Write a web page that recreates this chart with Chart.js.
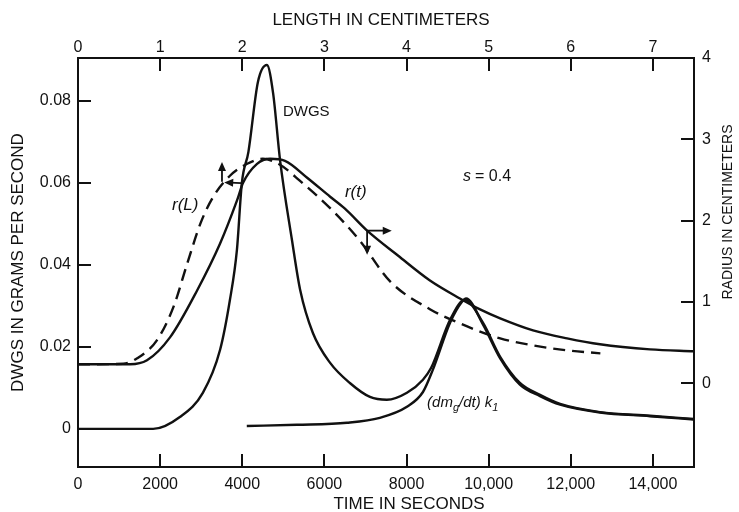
<!DOCTYPE html>
<html>
<head>
<meta charset="utf-8">
<script src="https://cdn.jsdelivr.net/npm/chart.js@4"></script>
<style>
  html, body { margin: 0; padding: 0; background: #fff; }
  canvas { display: block; }
</style>
</head>
<body>
<canvas id="chart" width="739" height="512"></canvas>
<script>
// DWGS, grams per second, against time in seconds (left axis)
const dwgsTime = [0, 1830, 2480, 3040, 3460, 3700, 3870, 3990, 4150, 4380, 4600, 4750, 4920, 5210, 5410, 5720, 6140, 6620, 7110, 7520, 8010, 8400, 8600, 9060, 9420, 9860, 10280, 10760, 11250, 11740, 12710, 13930, 15000];
const dwgsRate = [0, 0, 0.0029, 0.0088, 0.0193, 0.0315, 0.0437, 0.0600, 0.0676, 0.0846, 0.0888, 0.0820, 0.0656, 0.0461, 0.0339, 0.0234, 0.0161, 0.0112, 0.0078, 0.0071, 0.0088, 0.0120, 0.0149, 0.0266, 0.0315, 0.0259, 0.0176, 0.0112, 0.0083, 0.0061, 0.0041, 0.0032, 0.0024];

// (dmg/dt) k1, same units as DWGS
const dmgTime = [4110, 5330, 6550, 7350, 8010, 8400, 8640, 9060, 9350, 9450, 9860, 10280, 10760, 11250, 11740, 12710, 13930, 15000];
const dmgRate = [0.0007, 0.0010, 0.0015, 0.0027, 0.0054, 0.0090, 0.0144, 0.0259, 0.0310, 0.0318, 0.0255, 0.0172, 0.0108, 0.0080, 0.0059, 0.0040, 0.0031, 0.0023];

// r(t): radius in cm against time (right axis, bottom axis)
const rtTime = [0, 1270, 1680, 2240, 2900, 3460, 3870, 4020, 4360, 4680, 5040, 5580, 6140, 6500, 7040, 7790, 8570, 9300, 9790, 10280, 11080, 11910, 12710, 13930, 15000];
const rtRadius = [0.233, 0.233, 0.282, 0.564, 1.141, 1.718, 2.245, 2.466, 2.699, 2.761, 2.736, 2.528, 2.294, 2.147, 1.877, 1.571, 1.264, 1.043, 0.908, 0.798, 0.650, 0.552, 0.479, 0.417, 0.393];

// r(L): radius in cm against length in cm (right axis, top axis)
const rlLength = [0, 0.55, 0.72, 0.96, 1.16, 1.33, 1.49, 1.64, 1.85, 2.06, 2.25, 2.46, 2.70, 3.10, 3.43, 3.80, 4.29, 4.65, 5.14, 5.54, 5.95, 6.36];
const rlRadius = [0.233, 0.240, 0.307, 0.528, 0.933, 1.472, 1.963, 2.282, 2.552, 2.699, 2.761, 2.687, 2.491, 2.123, 1.755, 1.252, 0.908, 0.736, 0.552, 0.466, 0.405, 0.368];

// tick values and labels
const timeTicks = [0, 2000, 4000, 6000, 8000, 10000, 12000, 14000];
const timeLabels = ['0', '2000', '4000', '6000', '8000', '10,000', '12,000', '14,000'];
const lengthTicks = [0, 1, 2, 3, 4, 5, 6, 7];
const rateTicks = [0, 0.02, 0.04, 0.06, 0.08];
const rateLabels = ['0', '0.02', '0.04', '0.06', '0.08'];
const radiusTicks = [0, 1, 2, 3, 4];

const FONT = "'Liberation Sans', Arial, sans-serif";
const INK = '#111';

function pairs(xs, ys) {
    return xs.map((x, i) => ({x: x, y: ys[i]}));
}
function fixTicks(values) {
    return scale => { scale.ticks = values.map(v => ({value: v})); };
}

function arrow(ctx, x1, y1, x2, y2) {
    const a = Math.atan2(y2 - y1, x2 - x1);
    ctx.beginPath();
    ctx.moveTo(x1, y1);
    ctx.lineTo(x2 - 6 * Math.cos(a), y2 - 6 * Math.sin(a));
    ctx.stroke();
    ctx.beginPath();
    ctx.moveTo(x2, y2);
    ctx.lineTo(x2 - 9 * Math.cos(a) + 4 * Math.sin(a), y2 - 9 * Math.sin(a) - 4 * Math.cos(a));
    ctx.lineTo(x2 - 9 * Math.cos(a) - 4 * Math.sin(a), y2 - 9 * Math.sin(a) + 4 * Math.cos(a));
    ctx.closePath();
    ctx.fill();
}

// tick marks pointing into the plot, as in the original figure
const inwardTicks = {
    id: 'inwardTicks',
    afterDraw(chart) {
        const ctx = chart.ctx;
        const a = chart.chartArea;
        const s = chart.scales;
        const len = 13;
        const w = 2;
        ctx.save();
        ctx.fillStyle = INK;
        for (const v of timeTicks) {
            const p = Math.round(s.x.getPixelForValue(v));
            ctx.fillRect(p - w / 2, a.bottom - len, w, len);
        }
        for (const v of lengthTicks) {
            const p = Math.round(s.xTop.getPixelForValue(v));
            ctx.fillRect(p - w / 2, a.top, w, len);
        }
        for (const v of rateTicks) {
            const p = Math.round(s.y.getPixelForValue(v));
            ctx.fillRect(a.left, p - w / 2, len, w);
        }
        for (const v of radiusTicks) {
            const p = Math.round(s.yR.getPixelForValue(v));
            ctx.fillRect(a.right - len, p - w / 2, len, w);
        }
        ctx.restore();
    }
};

// labels, arrows and the axis titles that sit off-centre in the original
const notes = {
    id: 'notes',
    afterDraw(chart) {
        const ctx = chart.ctx;
        const s = chart.scales;
        const px = t => s.x.getPixelForValue(t);
        const pyL = v => s.y.getPixelForValue(v);
        const pyR = r => s.yR.getPixelForValue(r);
        ctx.save();
        ctx.fillStyle = INK;
        ctx.strokeStyle = INK;
        ctx.lineWidth = 1.8;
        ctx.textBaseline = 'middle';
        ctx.textAlign = 'left';

        ctx.font = '15px ' + FONT;
        ctx.fillText('DWGS', px(4990), pyL(0.0773));
        ctx.font = '16px ' + FONT;
        ctx.fillText('= 0.4', px(9375) + 12, pyR(2.54));
        ctx.font = 'italic 16px ' + FONT;
        ctx.fillText('s', px(9375), pyR(2.54));
        ctx.font = 'italic 17px ' + FONT;
        ctx.fillText('r(L)', px(2290), pyR(2.184));
        ctx.fillText('r(t)', px(6500), pyR(2.344));

        // (dm_g/dt) k_1
        let x = px(8500);
        const y = pyL(0.0063);
        const part = (txt, size, dy) => {
            ctx.font = 'italic ' + size + 'px ' + FONT;
            ctx.fillText(txt, x, y + dy);
            x += ctx.measureText(txt).width;
        };
        part('(dm', 15, 0);
        part('g', 11, 5);
        part('/dt) k', 15, 0);
        part('1', 11, 5);

        // r(t) arrows: right to the radius axis, down to the time axis
        arrow(ctx, px(7040), pyR(1.877), px(7640), pyR(1.877));
        arrow(ctx, px(7040), pyR(1.877), px(7040), pyR(1.58));
        // r(L) arrows
        arrow(ctx, px(3506), pyR(2.479), px(3506), pyR(2.72));
        arrow(ctx, px(3980), pyR(2.46), px(3560), pyR(2.47));

        ctx.textAlign = 'center';
        ctx.font = '17px ' + FONT;
        ctx.fillText('LENGTH IN CENTIMETERS', 381, 20);
        ctx.fillText('TIME IN SECONDS', 409, 504);

        ctx.font = '14px ' + FONT;
        ctx.translate(728, 212);
        ctx.rotate(-Math.PI / 2);
        ctx.fillText('RADIUS IN CENTIMETERS', 0, 0);
        ctx.restore();
    }
};

const axisGrid = {drawOnChartArea: false, drawTicks: false};
const axisBorder = {display: true, color: INK, width: 2};
const tickFont = {family: FONT, size: 16};
const line = {borderColor: INK, borderWidth: 2.4, pointRadius: 0, fill: false,
              tension: 0.4, cubicInterpolationMode: 'monotone'};

new Chart(document.getElementById('chart'), {
    type: 'line',
    data: {
        datasets: [{
            ...line,
            label: 'DWGS',
            data: pairs(dwgsTime, dwgsRate),
            xAxisID: 'x', yAxisID: 'y'
        }, {
            ...line,
            label: '(dmg/dt) k1',
            data: pairs(dmgTime, dmgRate),
            xAxisID: 'x', yAxisID: 'y'
        }, {
            ...line,
            label: 'r(t)',
            data: pairs(rtTime, rtRadius),
            xAxisID: 'x', yAxisID: 'yR'
        }, {
            ...line,
            label: 'r(L)',
            data: pairs(rlLength, rlRadius),
            xAxisID: 'xTop', yAxisID: 'yR',
            borderDash: [12, 7]
        }]
    },
    options: {
        responsive: false,
        animation: false,
        layout: {padding: 0},
        plugins: {legend: {display: false}, tooltip: {enabled: false}},
        scales: {
            x: {
                type: 'linear', position: 'bottom', min: 0, max: 15000,
                afterBuildTicks: fixTicks(timeTicks),
                afterFit: sc => { sc.height = 45; },
                grid: axisGrid, border: axisBorder,
                ticks: {autoSkip: false, maxRotation: 0, padding: 8, color: INK, font: tickFont,
                        callback: (v, i) => timeLabels[i]}
            },
            xTop: {
                type: 'linear', position: 'top', min: 0, max: 7.5,
                afterBuildTicks: fixTicks(lengthTicks),
                afterFit: sc => { sc.height = 58; },
                grid: axisGrid, border: axisBorder,
                ticks: {autoSkip: false, maxRotation: 0, padding: 1, color: INK, font: tickFont,
                        callback: (v, i) => String(lengthTicks[i])}
            },
            y: {
                type: 'linear', position: 'left', min: -0.0093, max: 0.0905,
                afterBuildTicks: fixTicks(rateTicks),
                afterFit: sc => { sc.width = 78; },
                grid: axisGrid, border: axisBorder,
                ticks: {autoSkip: false, padding: 7, color: INK, font: tickFont,
                        callback: (v, i) => rateLabels[i]},
                title: {display: true, text: 'DWGS IN GRAMS PER SECOND', color: INK,
                        font: {family: FONT, size: 17, lineHeight: 1.2}, padding: {top: 8, bottom: 0}}
            },
            yR: {
                type: 'linear', position: 'right', min: -1.03, max: 4,
                afterBuildTicks: fixTicks(radiusTicks),
                afterFit: sc => { sc.width = 45; },
                grid: axisGrid, border: axisBorder,
                ticks: {autoSkip: false, padding: 8, color: INK, font: tickFont,
                        callback: (v, i) => String(radiusTicks[i])}
            }
        }
    },
    plugins: [inwardTicks, notes]
});
</script>
</body>
</html>
